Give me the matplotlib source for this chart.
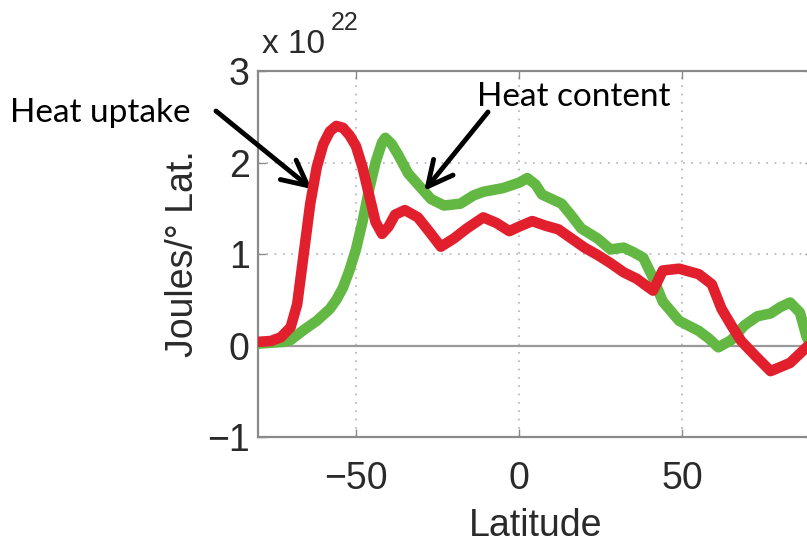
import matplotlib
matplotlib.use('Agg')
import matplotlib.pyplot as plt

# zonal heat uptake / heat content, units of 1e22 J per degree latitude
lat_uptake = [-80, -76, -73, -70, -68, -66, -64, -62, -60, -58, -56, -54, -52, -50,
              -48, -46, -44, -42, -40, -38, -35, -31, -27, -24, -20, -16, -11, -7,
              -3, 0, 4, 8, 12, 16, 20, 24, 28, 32, 36, 41, 44, 49, 55, 59, 62, 65,
              68, 72, 77, 83, 88, 90]
uptake = [0.04, 0.05, 0.09, 0.2, 0.45, 1.0, 1.55, 1.95, 2.2, 2.34, 2.4, 2.38, 2.3, 2.18,
          1.95, 1.65, 1.35, 1.22, 1.3, 1.43, 1.48, 1.4, 1.22, 1.08, 1.17, 1.28, 1.4, 1.34,
          1.25, 1.3, 1.36, 1.31, 1.27, 1.17, 1.07, 0.99, 0.9, 0.8, 0.73, 0.6, 0.82, 0.84,
          0.78, 0.67, 0.4, 0.22, 0.05, -0.1, -0.28, -0.19, -0.02, 0.04]

lat_content = [-80, -76, -72, -70, -66, -62, -58, -56, -54, -52, -50, -48, -46, -44,
               -42, -41, -39, -37, -34, -30, -27, -23, -18, -14, -11, -5, 0, 2.5, 5,
               7, 13, 16, 19, 24, 28, 32, 35, 38, 41, 44, 49, 55, 58, 61, 65, 69, 73,
               77, 80, 83, 86, 88, 90]
content = [0.02, 0.03, 0.04, 0.06, 0.17, 0.27, 0.4, 0.5, 0.63, 0.82, 1.05, 1.35, 1.7, 2.0,
           2.22, 2.27, 2.2, 2.08, 1.88, 1.72, 1.6, 1.53, 1.55, 1.64, 1.68, 1.72, 1.78, 1.83,
           1.76, 1.65, 1.55, 1.42, 1.28, 1.17, 1.05, 1.07, 1.02, 0.96, 0.74, 0.48, 0.27,
           0.16, 0.08, -0.02, 0.06, 0.22, 0.32, 0.35, 0.42, 0.47, 0.36, 0.1, -0.05]

xticks = [-50, 0, 50]
yticks = [-1, 0, 1, 2, 3]

plt.rcParams['font.family'] = ['Liberation Sans', 'DejaVu Sans']

fig = plt.figure(figsize=(8.07, 5.43), dpi=100)
ax = fig.add_axes([0.3197, 0.1952, 0.6877, 0.6740])

ax.plot(lat_content, content, color='#62b843', lw=7.6, solid_joinstyle='round',
        solid_capstyle='round', zorder=3)
ax.plot(lat_uptake, uptake, color='#e21f2c', lw=7.6, solid_joinstyle='round',
        solid_capstyle='round', zorder=4)
ax.axhline(0, color='#9a9a9a', lw=1.6, zorder=2)

ax.set_xlim(-80, 90)
ax.set_ylim(-1, 3)
ax.set_xticks(xticks)
ax.set_yticks(yticks)
ax.set_yticklabels(['\u22121', '0', '1', '2', '3'])
ax.set_xticklabels(['\u221250', '0', '50'])
ax.grid(True, ls=(0, (1, 4)), color='#b0b0c0', lw=1.2)
ax.tick_params(direction='in', length=6, width=1, color='#8a8a8a',
               labelsize=27, labelcolor='#2a2a2a', top=True, right=True)
ax.tick_params(axis='x', pad=17)
ax.tick_params(axis='y', pad=6)
for s in ax.spines.values():
    s.set_color('#8a8a8a')
    s.set_linewidth(1.6)

ax.set_xlabel('Latitude', fontsize=27, color='#2a2a2a', labelpad=8)
ax.set_ylabel('Joules/\u00b0 Lat.', fontsize=27, color='#2a2a2a', labelpad=4)

# exponent label above the y axis
fig.text(262 / 807, 1 - 53 / 543, 'x 10', fontsize=24, color='#2a2a2a',
         ha='left', va='baseline')
fig.text(331 / 807, 1 - 30 / 543, '22', fontsize=18, color='#2a2a2a',
         ha='left', va='baseline')

# callouts
fig.text(10 / 807, 1 - 113 / 543, 'Heat uptake', fontsize=24, family='Lato',
         ha='left', va='center', color='black')
fig.text(477 / 807, 1 - 97 / 543, 'Heat content', fontsize=24, family='Lato',
         ha='left', va='center', color='black')
arrow = dict(arrowstyle='->, head_length=0.9, head_width=0.45', lw=3.5,
             color='black', mutation_scale=20, shrinkA=0, shrinkB=0)
ax.annotate('', xy=(-63.5, 1.71), xycoords='data',
            xytext=(216, 543 - 111), textcoords='figure pixels', arrowprops=arrow,
            annotation_clip=False)
ax.annotate('', xy=(-29.1, 1.69), xycoords='data',
            xytext=(488, 543 - 112), textcoords='figure pixels', arrowprops=arrow,
            annotation_clip=False)

fig.savefig('out.png', dpi=100)
